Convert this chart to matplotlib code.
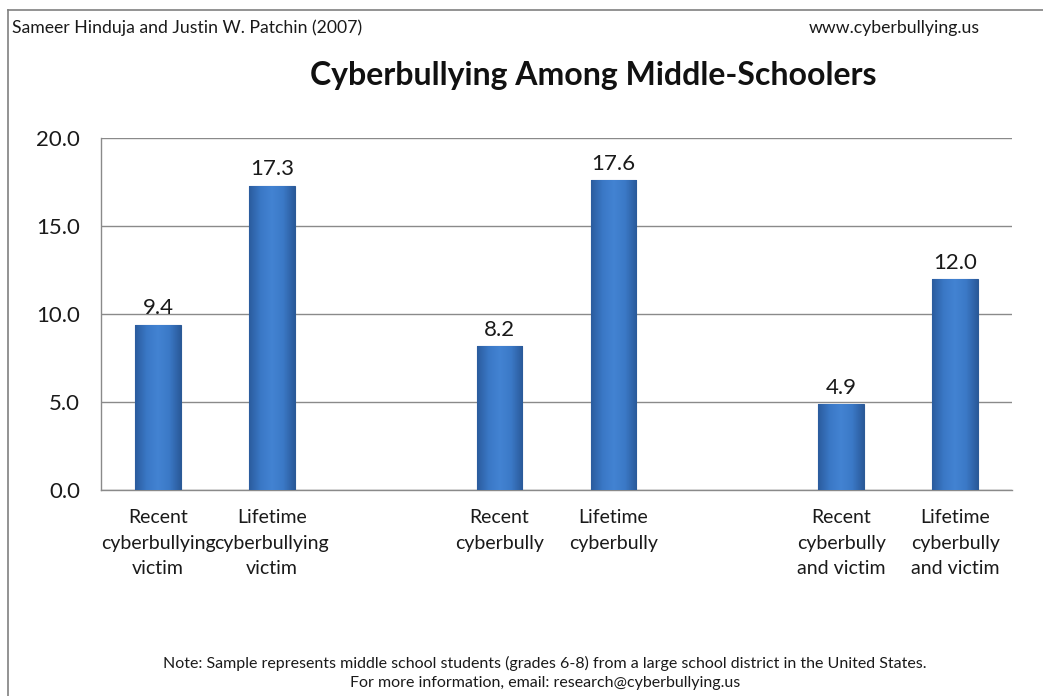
import numpy as np
import matplotlib
matplotlib.use('Agg')
import matplotlib.pyplot as plt
from matplotlib.colors import LinearSegmentedColormap

# Data
categories = [
    "Recent\ncyberbullying\nvictim",
    "Lifetime\ncyberbullying\nvictim",
    "Recent\ncyberbully",
    "Lifetime\ncyberbully",
    "Recent\ncyberbully\nand victim",
    "Lifetime\ncyberbully\nand victim",
]
positions = [0, 1, 3, 4, 6, 7]  # empty slots between the groups
values = [9.4, 17.3, 8.2, 17.6, 4.9, 12.0]
y_ticks = [0, 5, 10, 15, 20]

title = "Cyberbullying Among Middle-Schoolers"
left_header = "Sameer Hinduja and Justin W. Patchin (2007)"
right_header = "www.cyberbullying.us"
note = ("Note: Sample represents middle school students (grades 6-8) from a large school district in the United States.\n"
        "For more information, email: research@cyberbullying.us")

plt.rcParams['font.family'] = ['Lato', 'DejaVu Sans']

fig = plt.figure(figsize=(10.43, 6.96), dpi=100)
fig.patch.set_facecolor('white')

# axes: left 101px, right 1012px, top 138px (y=20), bottom 490px (y=0)
W, H = 1043, 696
ax = fig.add_axes([101 / W, 1 - 490 / H, (1012 - 101) / W, (490 - 138) / H])

bar_w = 0.40
grad = LinearSegmentedColormap.from_list(
    'bevel', ['#2b5c9e', '#3a78c6', '#4383d2', '#3b79c7', '#2a5a9a'])
bars = ax.bar(positions, values, width=bar_w, color='#3d7bc8',
              edgecolor='#2b5a96', linewidth=0.8, zorder=3)
xg = np.linspace(0, 1, 64).reshape(1, -1)
for b in bars:
    x0, w, h = b.get_x(), b.get_width(), b.get_height()
    im = ax.imshow(xg, cmap=grad, aspect='auto',
                   extent=(x0, x0 + w, 0, h), zorder=3.5)
    im.set_clip_path(b)
    ax.text(b.get_x() + w / 2, h + 0.35, f"{h:.1f}", ha='center',
            va='bottom', fontsize=16, color='#1a1a1a', zorder=5)

ax.set_xlim(-0.5, 7.5)
ax.set_ylim(0, 20)
ax.set_yticks(y_ticks)
ax.set_yticklabels([f"{t:.1f}" for t in y_ticks], fontsize=16, color='#1a1a1a')
ax.set_xticks(positions)
ax.set_xticklabels(categories, fontsize=14, color='#1a1a1a', linespacing=1.6)
ax.tick_params(axis='both', length=0)
ax.tick_params(axis='y', pad=15)
ax.tick_params(axis='x', pad=14)
ax.yaxis.grid(True, color='#8a8a8a', linewidth=1.0, zorder=0)
ax.set_axisbelow(True)
for s in ['top', 'right']:
    ax.spines[s].set_visible(False)
for s in ['left', 'bottom']:
    ax.spines[s].set_color('#8a8a8a')
    ax.spines[s].set_linewidth(1.0)

fig.text(12 / W, 1 - 28 / H, left_header, fontsize=12.7, va='center', ha='left', color='#1a1a1a')
fig.text(980 / W, 1 - 28 / H, right_header, fontsize=12.7, va='center', ha='right', color='#1a1a1a')
fig.text(593 / W, 1 - 76 / H, title, fontsize=23, fontweight='bold', va='center', ha='center', color='#111111')
fig.text(545 / W, 1 - 673 / H, note, fontsize=11.5, va='center', ha='center', color='#1a1a1a', linespacing=1.5)

# outer frame (left and top edges visible)
fig.add_artist(plt.Line2D([8 / W, 8 / W], [0, 1 - 10 / H], color='#808080', linewidth=1.2))
fig.add_artist(plt.Line2D([8 / W, 1], [1 - 10 / H, 1 - 10 / H], color='#808080', linewidth=1.2))

fig.savefig('out.png', dpi=100)
